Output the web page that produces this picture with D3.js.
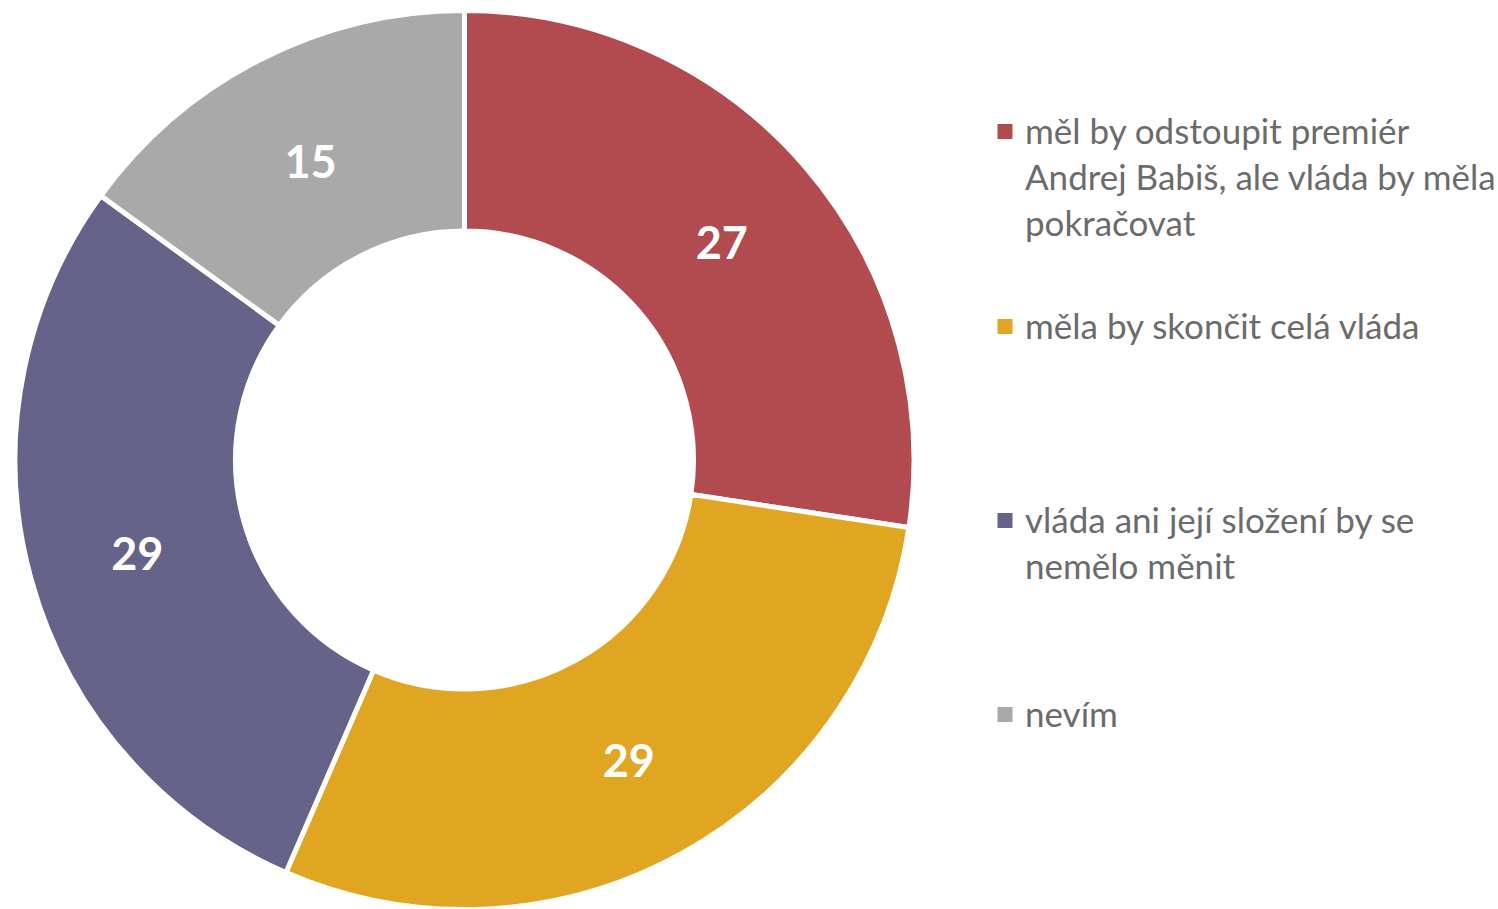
<!DOCTYPE html>
<html><head><meta charset="utf-8">
<script src="https://cdn.jsdelivr.net/npm/d3@7"></script>
<style>body{margin:0;background:#fff}</style>
</head><body>
<svg id="c" width="1498" height="909"></svg>
<script>
const categories = [
  ["měl by odstoupit premiér", "Andrej Babiš, ale vláda by měla", "pokračovat"],
  ["měla by skončit celá vláda"],
  ["vláda ani její složení by se", "nemělo měnit"],
  ["nevím"]
];
// slice sizes; labels show the rounded figures
const values = [27.4, 29.1, 28.5, 15.0];
const valueLabels = ["27", "29", "29", "15"];
const colors = ["#b24b50", "#e0a622", "#656389", "#a9a9a9"];

const svg = d3.select("#c");
const cx = 464.5, cy = 460, R = 449.5, r0 = 229;
const g = svg.append("g").attr("transform", `translate(${cx},${cy})`);
const pie = d3.pie().sort(null).value(d => d);
const arcs = pie(values);
const arc = d3.arc().innerRadius(r0).outerRadius(R);
const labelArc = d3.arc().innerRadius((r0+R)/2).outerRadius((r0+R)/2);

g.selectAll("path").data(arcs).join("path")
  .attr("d", arc).attr("fill", (d,i) => colors[i])
  .attr("stroke", "#fff").attr("stroke-width", 5).attr("stroke-linejoin", "miter");

g.selectAll("text.v").data(arcs).join("text").attr("class", "v")
  .attr("transform", d => `translate(${labelArc.centroid(d)})`)
  .attr("text-anchor", "middle").attr("dy", "0.45em")
  .attr("font-family", "Lato, sans-serif").attr("font-weight", "bold")
  .attr("font-size", 45).attr("fill", "#fff")
  .text((d,i) => valueLabels[i]);

const legendY = [131.5, 326.5, 520.5, 714.5];
const lg = svg.append("g");
categories.forEach((lines, i) => {
  lg.append("rect").attr("x", 997.5).attr("y", legendY[i] - 7.5).attr("width", 15).attr("height", 15)
    .attr("fill", colors[i]);
  const t = lg.append("text").attr("font-family", "Lato, sans-serif").attr("font-size", 35)
    .attr("fill", "#6b6b6b");
  lines.forEach((ln, j) => {
    t.append("tspan").attr("x", 1025).attr("y", legendY[i] + 12.5 + j * 46).text(ln);
  });
});
</script>
</body></html>
